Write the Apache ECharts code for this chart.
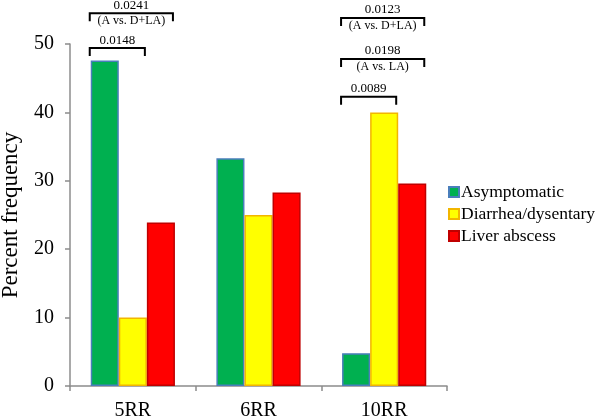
<!DOCTYPE html>
<html>
<head>
<meta charset="utf-8">
<script src="https://cdn.jsdelivr.net/npm/echarts@6/dist/echarts.min.js"></script>
<style>
  html, body { margin: 0; padding: 0; background: #fff; }
  #chart { width: 600px; height: 416px; }
</style>
</head>
<body>
<div id="chart"></div>
<script>
// 类别与各组数值（百分比）
const categories = ['5RR', '6RR', '10RR']
const asymptomatic = [47.6, 33.3, 4.8]
const diarrhea = [10.0, 25.0, 40.0]
const liverAbscess = [23.9, 28.3, 29.6]
const yTicks = [0, 10, 20, 30, 40, 50]

// 显著性比较：类别、起止系列、括号高度（按数值）、p 值、说明
const compCategory = [0, 0, 2, 2, 2]
const compFrom = [0, 0, 0, 0, 0]
const compTo = [1, 2, 1, 2, 2]
const compLevel = [49.4, 54.5, 42.3, 47.8, 53.8]
const compP = ['0.0148', '0.0241', '0.0089', '0.0198', '0.0123']
const compNote = ['', '(A vs. D+LA)', '', '(A vs. LA)', '(A vs. D+LA)']

const serif = '"Liberation Serif", "DejaVu Serif", serif'
const axisColor = '#8c8c8c'

const chart = echarts.init(document.getElementById('chart'))

const option = {
  animation: false,
  textStyle: { fontFamily: serif, color: '#000' },
  grid: { left: 70, right: 153, top: 44, bottom: 30, containLabel: false, outerBoundsMode: 'none' },
  legend: {
    orient: 'vertical',
    left: 443,
    top: 178,
    itemWidth: 10,
    itemHeight: 10,
    itemGap: 4,
    icon: 'rect',
    textStyle: { fontFamily: serif, fontSize: 17.5, color: '#000', padding: [0, 0, 0, -3] },
    data: ['Asymptomatic', 'Diarrhea/dysentary', 'Liver abscess'],
  },
  xAxis: {
    type: 'category',
    data: categories,
    axisLine: { lineStyle: { color: axisColor, width: 1.5 } },
    axisTick: { show: true, length: 5, lineStyle: { color: axisColor, width: 1.5 } },
    axisLabel: { fontFamily: serif, fontSize: 20, color: '#000', margin: 15 },
  },
  yAxis: {
    type: 'value',
    min: yTicks[0],
    max: yTicks[yTicks.length - 1],
    interval: 10,
    name: 'Percent frequency',
    nameLocation: 'middle',
    nameGap: 48,
    nameTextStyle: { fontFamily: serif, fontSize: 23, color: '#000' },
    axisLine: { show: true, lineStyle: { color: axisColor, width: 1.5 } },
    axisTick: { show: true, length: 5, lineStyle: { color: axisColor, width: 1.5 } },
    axisLabel: { fontFamily: serif, fontSize: 20, color: '#000', margin: 16 },
    splitLine: { show: false },
  },
  series: [
    {
      name: 'Asymptomatic',
      type: 'bar',
      data: asymptomatic,
      barGap: '0%',
      barCategoryGap: '33%',
      itemStyle: { color: '#00b050', borderColor: '#4a7ebb', borderWidth: 1.5 },
    },
    {
      name: 'Diarrhea/dysentary',
      type: 'bar',
      data: diarrhea,
      itemStyle: { color: '#ffff00', borderColor: '#f2b600', borderWidth: 1.5 },
    },
    {
      name: 'Liver abscess',
      type: 'bar',
      data: liverAbscess,
      itemStyle: { color: '#ff0000', borderColor: '#c00000', borderWidth: 1.5 },
    },
  ],
}

chart.setOption(option)

// 根据柱子实际布局绘制显著性括号
function barLayout(seriesIndex, dataIndex) {
  return chart.getModel().getSeriesByIndex(seriesIndex).getData().getItemLayout(dataIndex)
}

const graphics = []
for (let i = 0; i < compP.length; i++) {
  const a = barLayout(compFrom[i], compCategory[i])
  const b = barLayout(compTo[i], compCategory[i])
  const x1 = Math.min(a.x, a.x + a.width) - 1
  const x2 = Math.max(b.x, b.x + b.width) - 2
  const yb = chart.convertToPixel({ yAxisIndex: 0 }, compLevel[i])
  graphics.push({
    type: 'polyline',
    shape: { points: [[x1, yb + 8], [x1, yb], [x2, yb], [x2, yb + 8]] },
    style: { stroke: '#000', lineWidth: 2, fill: null },
  })
  graphics.push({
    type: 'text',
    x: (x1 + x2) / 2,
    y: yb - 8,
    style: { text: compP[i], fontFamily: serif, fontSize: 13, fill: '#000', align: 'center', verticalAlign: 'middle' },
  })
  if (compNote[i]) {
    graphics.push({
      type: 'text',
      x: (x1 + x2) / 2,
      y: yb + 8,
      style: { text: compNote[i], fontFamily: serif, fontSize: 12, fill: '#000', align: 'center', verticalAlign: 'middle' },
    })
  }
}
chart.setOption({ graphic: graphics })
</script>
</body>
</html>
